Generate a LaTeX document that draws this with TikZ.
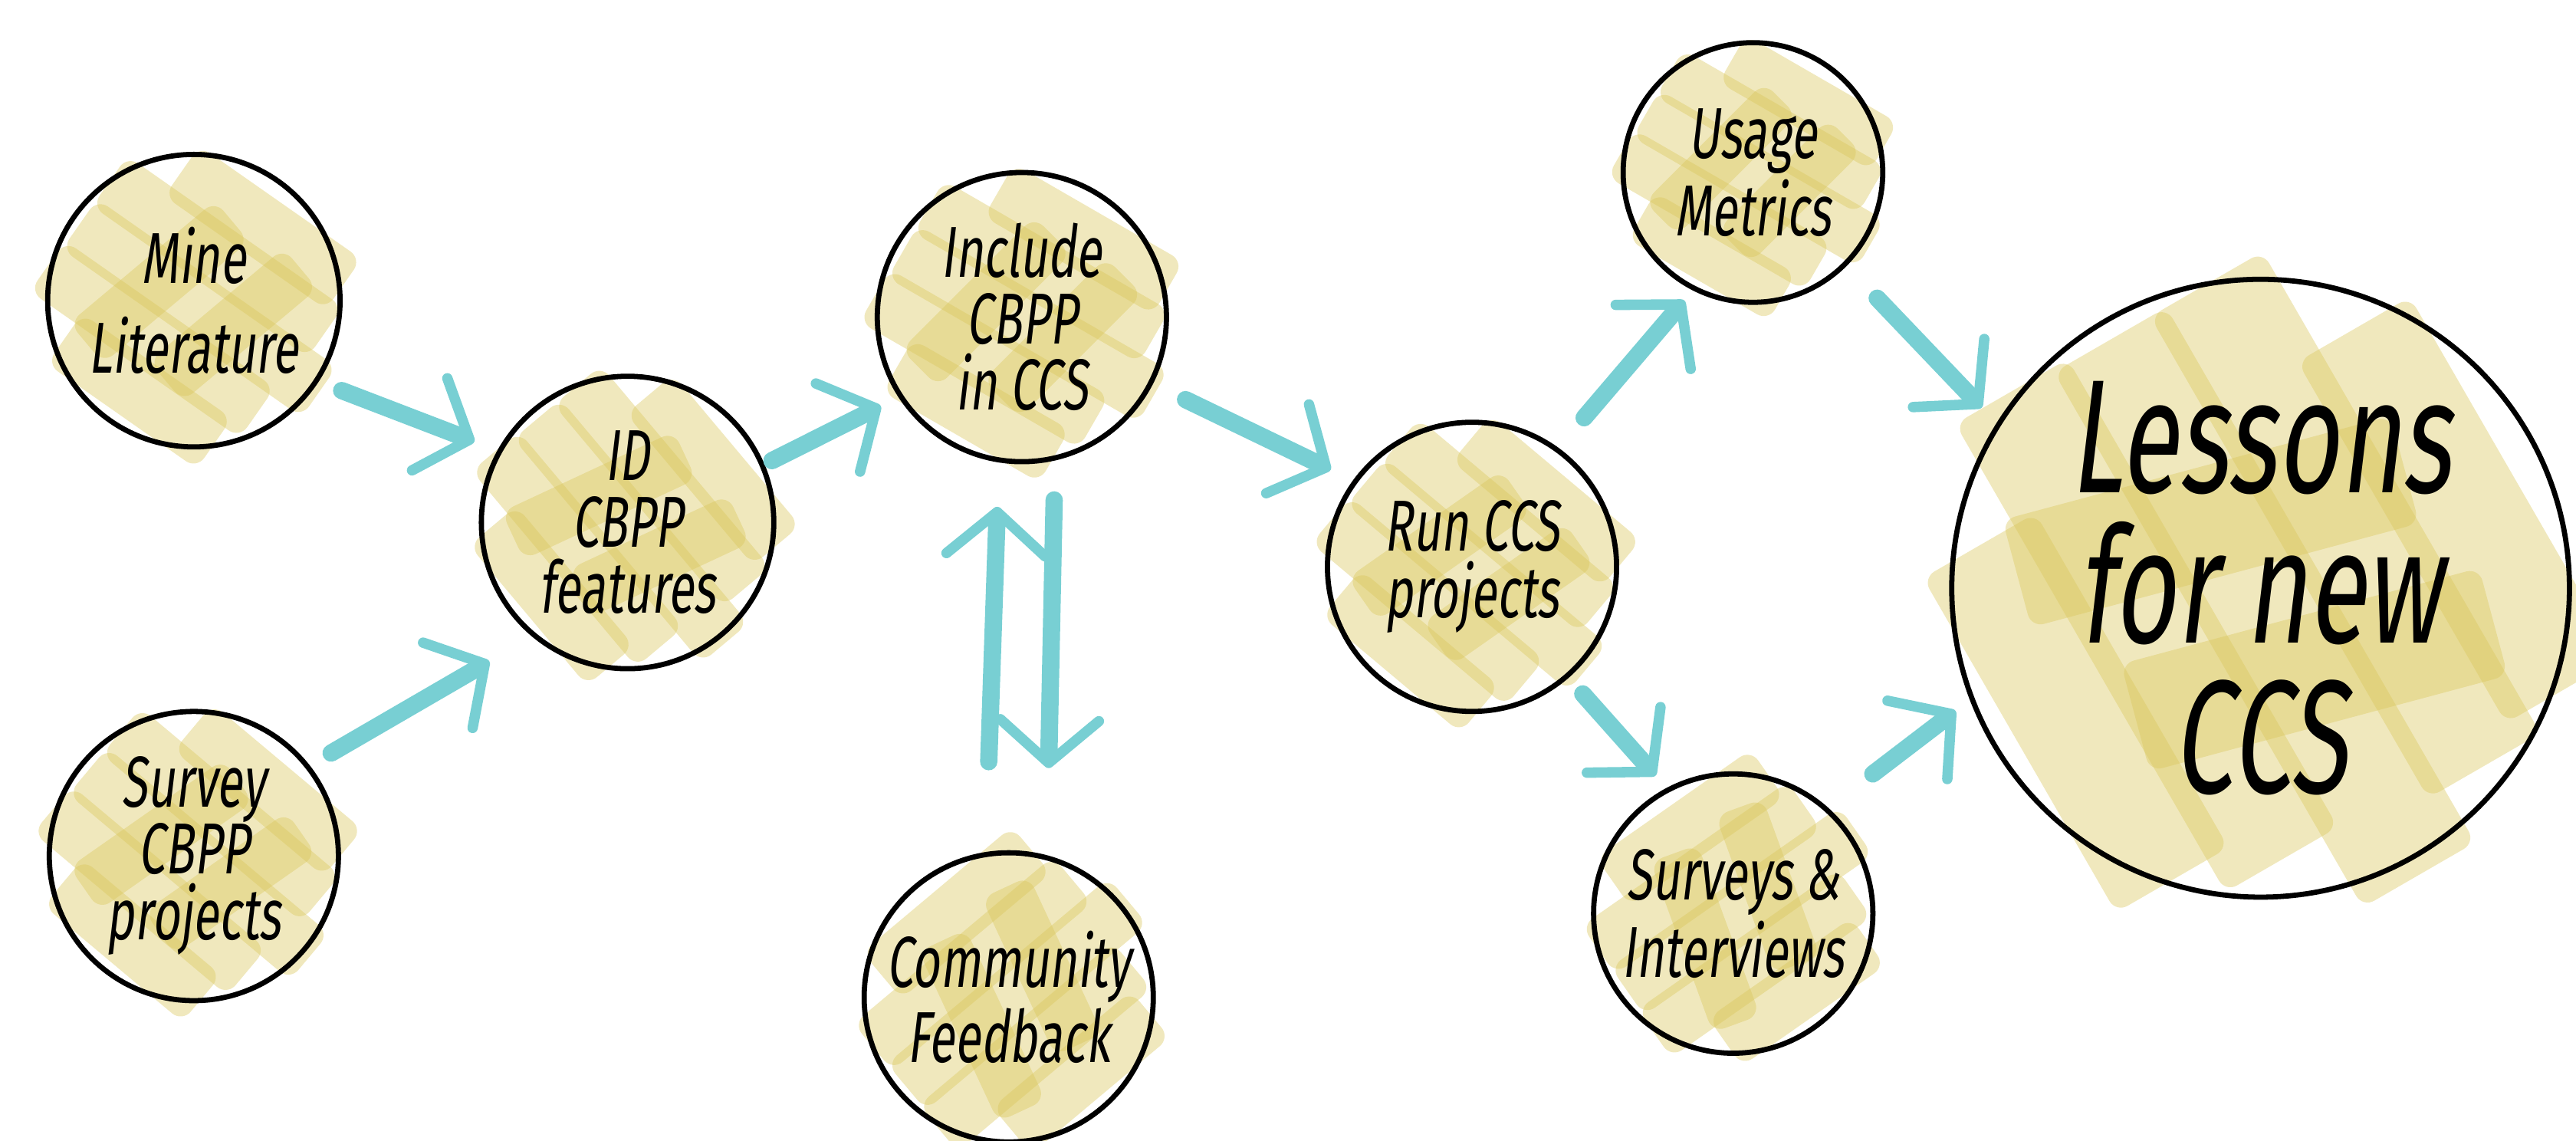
\documentclass[tikz,border=0pt]{standalone}
\usepackage{fontspec}
\setmainfont{Fira Sans}[FakeStretch=0.66,FakeSlant=0.12]
\usepackage{tikz}
\usetikzlibrary{arrows.meta,calc,backgrounds}
\definecolor{flowteal}{HTML}{78CFD3}
\definecolor{scribyellow}{HTML}{D9C65A}

% highlighter strokes behind a bubble: node, radius, tilt
\newcommand{\scribble}[3]{%
  \begin{scope}[shift={(#1)},rotate=#3]
    \foreach \y/\l/\o in {-0.72/1.25/0.05, -0.38/1.75/-0.08, -0.02/2.0/0.06,
                          0.34/1.8/-0.04, 0.68/1.35/0.1}
      \fill[scrib] ({(\o-\l/2)*#2},{(\y-0.21)*#2}) rectangle ({(\o+\l/2)*#2},{(\y+0.21)*#2});
    \foreach \y/\l/\o in {-0.3/1.2/0.1, 0.25/1.3/-0.1}
      \fill[scrib,rotate=75] ({(\o-\l/2)*#2},{(\y-0.18)*#2}) rectangle ({(\o+\l/2)*#2},{(\y+0.18)*#2});
  \end{scope}}

\begin{document}
\begin{tikzpicture}[
  >={Straight Barb[length=2.6mm,width=6mm,line width=1.8pt,round]},
  bub/.style={circle,draw,line width=0.9pt,inner sep=-3mm,align=center,
              font=\fontsize{12.5}{11.5}\selectfont},
  flow/.style={->,flowteal,line width=3pt,line cap=round,shorten >=1.5mm,shorten <=1.5mm},
  scrib/.style={fill=scribyellow,fill opacity=0.4,rounded corners=0.8mm}]
  \useasboundingbox (0,0) rectangle (15.68,6.94);

  % inputs
  \node[bub,minimum size=1.78cm] (mine)   at (1.18,5.11) {Mine\\[4pt]Literature};
  \node[bub,minimum size=1.76cm] (survey) at (1.18,1.73) {Survey\\CBPP\\projects};
  \node[bub,minimum size=1.78cm] (id)     at (3.82,3.76) {ID\\CBPP\\features};

  % design loop
  \node[bub,minimum size=1.76cm] (include)   at (6.22,5.01) {Include\\CBPP\\in CCS};
  \node[bub,minimum size=1.76cm] (community) at (6.14,0.87) {Community\\Feedback};

  % evaluation
  \node[bub,minimum size=1.76cm] (run)     at (8.96,3.49)  {Run CCS\\projects};
  \node[bub,minimum size=1.58cm] (usage)   at (10.67,5.89) {Usage\\Metrics};
  \node[bub,minimum size=1.70cm] (surveys) at (10.55,1.38) {Surveys \&\\Interviews};
  \node[bub,minimum size=3.76cm,font=\fontsize{28}{26}\selectfont] (lessons) at (13.76,3.36)
        {Lessons\\for new\\CCS};

  \begin{scope}[on background layer]
    \foreach \n/\r/\a in {mine/0.89/-35, survey/0.88/-40, id/0.89/-50, include/0.88/-30,
                          community/0.88/40, run/0.88/-40, usage/0.79/-30,
                          surveys/0.85/35, lessons/1.88/-60}
      \scribble{\n}{\r}{\a};
  \end{scope}

  \draw[flow] (mine.-33) -- (id.151);
  \draw[flow,shorten >=3mm] (survey.38) -- (id.-130);
  \draw[flow,shorten <=0.5mm,shorten >=1.2mm] (id.23) -- (include.-147);
  \draw[flow,shorten <=2.2mm] (include.-27) -- (run.144);
  \draw[flow,shorten <=5.5mm,shorten >=2.7mm] (community.99) -- (include.-99);
  \draw[flow,shorten <=2.4mm,shorten >=5.3mm] (include.-77) -- (community.75);
  \draw[flow,shorten <=2.4mm,shorten >=0.8mm] (run.54) -- (usage.-117);
  \draw[flow,shorten <=1.3mm,shorten >=1mm] (run.-49) -- (surveys.118);
  \draw[flow,shorten <=2.7mm,shorten >=1.3mm] (usage.-45) -- (lessons.148);
  \draw[flow,shorten <=3.4mm,shorten >=1.1mm] (surveys.48) -- (lessons.-159);
\end{tikzpicture}
\end{document}
